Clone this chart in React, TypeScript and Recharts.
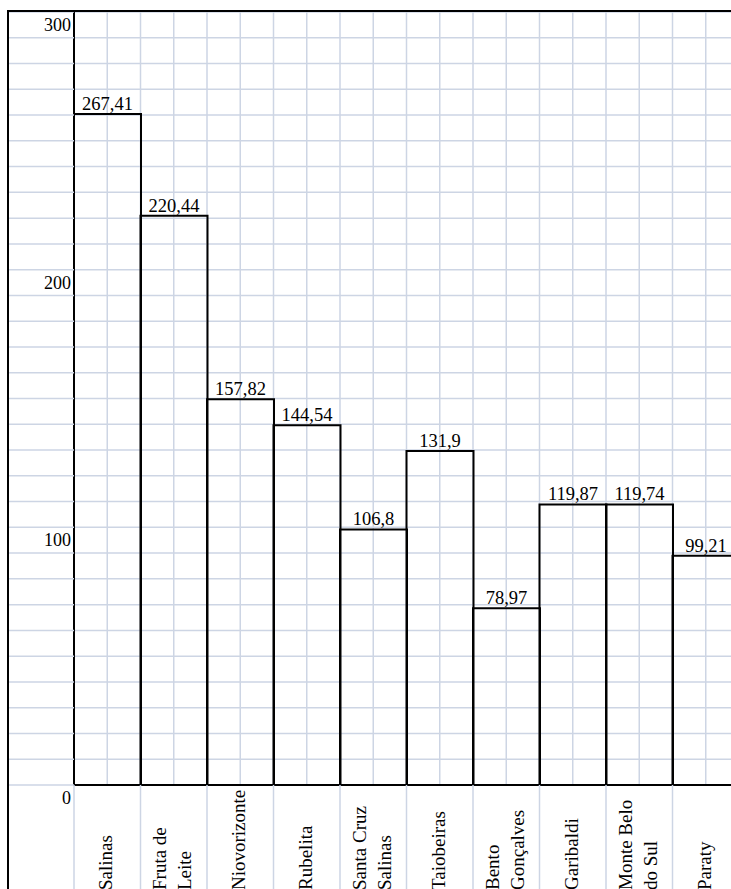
import React from 'react';
import { BarChart, Bar, XAxis, YAxis, CartesianGrid, LabelList } from 'recharts';

// categories (line breaks as in the original table cells)
const cities = [
  'Salinas',
  'Fruta de\nLeite',
  'Niovorizonte',
  'Rubelita',
  'Santa Cruz\nSalinas',
  'Taiobeiras',
  'Bento\nGonçalves',
  'Garibaldi',
  'Monte Belo\ndo Sul',
  'Paraty',
];

// numbers printed above the bars
const printedValues = [267.41, 220.44, 157.82, 144.54, 106.8, 131.9, 78.97, 119.87, 119.74, 99.21];

// bar heights as drawn, read against the 0-300 axis
const barHeights = [260.4, 220.9, 149.7, 139.6, 99.2, 129.6, 68.6, 108.9, 108.9, 89.0];

const labeledTicks = [0, 100, 200, 300];
const gridStep = 10;

const FONT = '"Liberation Serif", "Times New Roman", serif';
const GRID = '#cdd5e4';

const CHART_W = 739;
const CHART_H = 889;
const LEFT = 8;
const YAXIS_W = 66;
const XAXIS_H = 104;
const PLOT_W = CHART_W - LEFT - YAXIS_W;
const BAND = PLOT_W / cities.length;
const LINE_GAP = 25;

const gridTicks = Array.from({ length: 300 / gridStep + 1 }, (_, i) => i * gridStep);

const data = cities.map((name, i) => ({
  name,
  height: barHeights[i],
  label: String(printedValues[i]).replace('.', ','),
}));

const ValueTick = (props: any) => {
  const { x, y, payload } = props;
  const axisX = x + 3;
  return (
    <g>
      <line x1={axisX - YAXIS_W} x2={axisX} y1={y} y2={y} stroke={GRID} strokeWidth={1.5} />
      {labeledTicks.includes(payload.value) && (
        <text x={x} y={y + 19} textAnchor="end" fontSize={18} fontFamily={FONT} fill="#000">
          {payload.value}
        </text>
      )}
    </g>
  );
};

const CityTick = (props: any) => {
  const { x, y, payload } = props;
  const lines = String(payload.value).split('\n');
  const left = x - BAND / 2;
  return (
    <g>
      <line x1={left} x2={left} y1={y} y2={y + XAXIS_H} stroke={GRID} strokeWidth={1.5} />
      {lines.map((ln, i) => {
        const bx = x + (i - (lines.length - 1) / 2) * LINE_GAP + 5;
        const by = y + XAXIS_H + 1;
        return (
          <text
            key={i}
            x={bx}
            y={by}
            transform={`rotate(-90 ${bx} ${by})`}
            textAnchor="start"
            fontSize={19}
            fontFamily={FONT}
            fill="#000"
          >
            {ln}
          </text>
        );
      })}
    </g>
  );
};

export default function App() {
  return (
    <div style={{ position: 'relative', width: 731, height: 889, overflow: 'hidden', background: '#fff' }}>
      <style>{'body{margin:0;overflow:hidden}'}</style>
      <div style={{ position: 'absolute', left: 0, top: 0 }}>
        <BarChart
          width={CHART_W}
          height={CHART_H}
          data={data}
          margin={{ top: 12, right: 0, left: LEFT, bottom: 0 }}
          barCategoryGap={0}
          barGap={0}
        >
          <CartesianGrid
            stroke={GRID}
            strokeWidth={1.5}
            verticalCoordinatesGenerator={(p: any) => {
              const n = cities.length * 2;
              return Array.from({ length: n + 1 }, (_, i) => p.offset.left + (i * PLOT_W) / n);
            }}
          />
          <XAxis
            dataKey="name"
            height={XAXIS_H}
            interval={0}
            tickLine={false}
            tickSize={0}
            tickMargin={0}
            axisLine={{ stroke: '#000', strokeWidth: 2 }}
            tick={<CityTick />}
          />
          <YAxis
            type="number"
            domain={[0, 300]}
            ticks={gridTicks}
            interval={0}
            width={YAXIS_W}
            tickLine={false}
            tickSize={0}
            tickMargin={3}
            axisLine={{ stroke: '#000', strokeWidth: 2 }}
            tick={<ValueTick />}
          />
          <Bar dataKey="height" fill="none" stroke="#000" strokeWidth={2} isAnimationActive={false}>
            <LabelList dataKey="label" position="top" offset={4} fill="#000" fontSize={18.5} fontFamily={FONT} />
          </Bar>
        </BarChart>
      </div>
      <div
        style={{
          position: 'absolute',
          left: 7,
          top: 10,
          width: 740,
          height: 900,
          borderLeft: '2px solid #000',
          borderTop: '2px solid #000',
          pointerEvents: 'none',
        }}
      />
    </div>
  );
}
